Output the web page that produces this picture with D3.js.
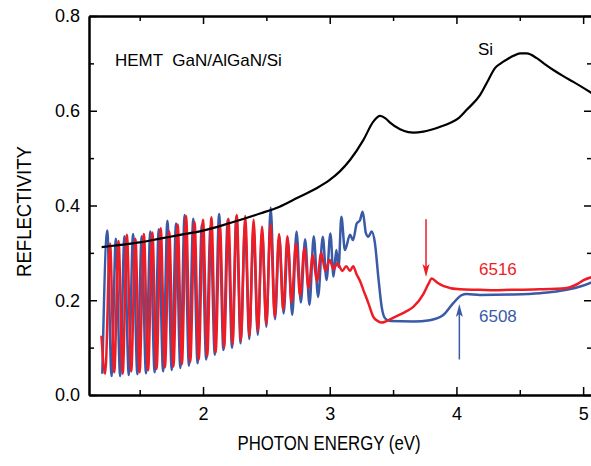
<!DOCTYPE html>
<html>
<head>
<meta charset="utf-8">
<script src="https://cdn.jsdelivr.net/npm/d3@7"></script>
<style>
  body { margin: 0; background: #fff; }
  text { font-family: "Liberation Sans", Arial, sans-serif; }
</style>
</head>
<body>
<svg id="chart"></svg>
<script>
// photon energy (eV), reflectivity pairs
const siCurve = [[1.2,0.312],[1.35,0.317],[1.5,0.322],[1.66,0.33],[1.8,0.337],[2.0,0.347],[2.2,0.362],[2.45,0.383],[2.6,0.397],[2.75,0.417],[2.9,0.437],[3.0,0.454],[3.08,0.472],[3.16,0.496],[3.265,0.538],[3.344,0.577],[3.397,0.589],[3.44,0.584],[3.476,0.575],[3.555,0.561],[3.62,0.555],[3.66,0.554],[3.739,0.556],[3.87,0.566],[3.949,0.574],[4.02,0.585],[4.081,0.602],[4.186,0.633],[4.252,0.665],[4.304,0.69],[4.35,0.7],[4.397,0.708],[4.45,0.716],[4.502,0.721],[4.555,0.721],[4.634,0.711],[4.7,0.698],[4.765,0.686],[4.85,0.672],[4.923,0.661],[5.07,0.637]];

const sample6508 = [[1.205,0.045],[1.244,0.347],[1.278,0.04],[1.312,0.33],[1.346,0.04],[1.380,0.335],[1.414,0.042],[1.448,0.34],[1.482,0.044],[1.516,0.335],[1.550,0.046],[1.584,0.345],[1.618,0.048],[1.651,0.35],[1.685,0.05],[1.719,0.368],[1.753,0.053],[1.787,0.362],[1.821,0.057],[1.855,0.38],[1.889,0.062],[1.923,0.372],[1.957,0.067],[1.991,0.36],[2.025,0.075],[2.059,0.355],[2.093,0.085],[2.127,0.382],[2.161,0.095],[2.195,0.37],[2.229,0.1],[2.263,0.376],[2.297,0.109],[2.331,0.36],[2.365,0.118],[2.398,0.35],[2.432,0.127],[2.466,0.345],[2.5,0.144],[2.534,0.395],[2.568,0.16],[2.602,0.334],[2.636,0.172],[2.670,0.324],[2.704,0.169],[2.738,0.345],[2.772,0.195],[2.806,0.329],[2.84,0.19],[2.874,0.335],[2.908,0.207],[2.945,0.334],[2.975,0.243],[3.005,0.341],[3.03,0.25],[3.052,0.306],[3.07,0.27],[3.092,0.376],[3.12,0.306],[3.16,0.338],[3.184,0.327],[3.213,0.362],[3.239,0.369],[3.26,0.387],[3.286,0.341],[3.304,0.334],[3.331,0.345],[3.357,0.32],[3.383,0.25],[3.41,0.186],[3.436,0.162],[3.476,0.156],[3.66,0.155],[3.79,0.158],[3.896,0.169],[3.975,0.194],[4.042,0.211],[4.08,0.213],[4.186,0.211],[4.423,0.212],[4.66,0.215],[4.87,0.222],[4.989,0.23],[5.07,0.238]];

const sample6516 = [[1.198,0.125],[1.228,0.045],[1.266,0.32],[1.299,0.048],[1.333,0.325],[1.366,0.045],[1.399,0.338],[1.433,0.05],[1.466,0.33],[1.499,0.048],[1.533,0.34],[1.566,0.052],[1.600,0.343],[1.633,0.055],[1.666,0.352],[1.699,0.058],[1.733,0.345],[1.766,0.06],[1.800,0.36],[1.833,0.065],[1.866,0.378],[1.899,0.07],[1.933,0.365],[1.966,0.075],[2.0,0.37],[2.033,0.082],[2.066,0.375],[2.099,0.09],[2.133,0.36],[2.166,0.1],[2.2,0.372],[2.233,0.108],[2.266,0.38],[2.299,0.115],[2.333,0.378],[2.366,0.125],[2.399,0.37],[2.433,0.135],[2.466,0.355],[2.499,0.15],[2.533,0.36],[2.566,0.165],[2.6,0.34],[2.633,0.18],[2.666,0.335],[2.699,0.195],[2.733,0.32],[2.766,0.21],[2.8,0.31],[2.833,0.225],[2.866,0.295],[2.899,0.24],[2.933,0.3],[2.965,0.262],[3.0,0.285],[3.03,0.265],[3.06,0.278],[3.1,0.262],[3.13,0.272],[3.16,0.262],[3.185,0.272],[3.21,0.256],[3.24,0.24],[3.265,0.222],[3.305,0.194],[3.344,0.165],[3.38,0.156],[3.41,0.153],[3.5,0.163],[3.6,0.176],[3.66,0.186],[3.739,0.213],[3.78,0.235],[3.805,0.246],[3.85,0.237],[3.9,0.23],[4.028,0.223],[4.186,0.222],[4.3,0.221],[4.423,0.222],[4.66,0.223],[4.87,0.226],[4.96,0.235],[5.0,0.242],[5.07,0.249]];

const xMajor = [2, 3, 4, 5];
const xMinor = [1.5, 2.5, 3.5, 4.5];
const yMajor = [0, 0.2, 0.4, 0.6, 0.8];
const yMinor = [0.1, 0.3, 0.5, 0.7];

// arrows: energy, start and end reflectivity
const arrows = [
  { e: 3.76, from: 0.371, to: 0.249, color: '#ee1c25' },
  { e: 4.023, from: 0.075, to: 0.192, color: '#3a5aa8' }
];
const labels = [
  { text: 'HEMT  GaN/AlGaN/Si', e: 1.305, r: 0.694, color: '#000' },
  { text: 'Si', e: 4.17, r: 0.718, color: '#000' },
  { text: '6516', e: 4.178, r: 0.253, color: '#ee1c25' },
  { text: '6508', e: 4.178, r: 0.154, color: '#3a5aa8' }
];

const W = 591, H = 466;
const plot = { left: 89, right: 592, top: 16, bottom: 395 };

const svg = d3.select('#chart').attr('width', W).attr('height', H);

const x = d3.scaleLinear().domain([1.1, 5.07]).range([plot.left, plot.right]);
const y = d3.scaleLinear().domain([0, 0.8]).range([plot.bottom, plot.top]);

svg.append('clipPath').attr('id', 'clip')
  .append('rect')
  .attr('x', plot.left).attr('y', plot.top)
  .attr('width', plot.right - plot.left).attr('height', plot.bottom - plot.top);

const line = d3.line().x(d => x(d[0])).y(d => y(d[1])).curve(d3.curveMonotoneX);

const curves = svg.append('g').attr('clip-path', 'url(#clip)');
curves.append('path').datum(sample6508)
  .attr('d', line).attr('fill', 'none')
  .attr('stroke', '#3a5aa8').attr('stroke-width', 2.5).attr('stroke-linejoin', 'round');
curves.append('path').datum(sample6516)
  .attr('d', line).attr('fill', 'none')
  .attr('stroke', '#ee1c25').attr('stroke-width', 2.5).attr('stroke-linejoin', 'round');
curves.append('path').datum(siCurve)
  .attr('d', line).attr('fill', 'none')
  .attr('stroke', '#000').attr('stroke-width', 2.2);

// axes, ticks pointing inward
function styleAxis(g) {
  g.selectAll('.domain').attr('stroke', '#000').attr('stroke-width', 2);
  g.selectAll('.tick line').attr('stroke', '#000').attr('stroke-width', 1.5);
  g.selectAll('.tick text').attr('fill', '#000').style('font-size', '18px')
    .style('font-family', '"Liberation Sans", Arial, sans-serif');
}

svg.append('g').attr('transform', `translate(0,${plot.bottom})`)
  .call(d3.axisBottom(x).tickValues(xMajor).tickFormat(d3.format('d')).tickSize(-8).tickSizeOuter(0).tickPadding(12))
  .call(styleAxis);
svg.append('g').attr('transform', `translate(0,${plot.bottom})`)
  .call(d3.axisBottom(x).tickValues(xMinor).tickFormat('').tickSize(-5).tickSizeOuter(0))
  .call(styleAxis);
svg.append('g').attr('transform', `translate(0,${plot.top})`)
  .call(d3.axisTop(x).tickValues(xMajor).tickFormat('').tickSize(-8).tickSizeOuter(0))
  .call(styleAxis);
svg.append('g').attr('transform', `translate(0,${plot.top})`)
  .call(d3.axisTop(x).tickValues(xMinor).tickFormat('').tickSize(-5).tickSizeOuter(0))
  .call(styleAxis);

svg.append('g').attr('transform', `translate(${plot.left},0)`)
  .call(d3.axisLeft(y).tickValues(yMajor).tickFormat(d3.format('.1f')).tickSize(-8).tickSizeOuter(0).tickPadding(9))
  .call(styleAxis);
svg.append('g').attr('transform', `translate(${plot.left},0)`)
  .call(d3.axisLeft(y).tickValues(yMinor).tickFormat('').tickSize(-5).tickSizeOuter(0))
  .call(styleAxis);
svg.append('g').attr('transform', `translate(${plot.right},0)`)
  .call(d3.axisRight(y).tickValues(yMajor).tickFormat('').tickSize(-8).tickSizeOuter(0))
  .call(styleAxis);
svg.append('g').attr('transform', `translate(${plot.right},0)`)
  .call(d3.axisRight(y).tickValues(yMinor).tickFormat('').tickSize(-5).tickSizeOuter(0))
  .call(styleAxis);

// axis titles
svg.append('text')
  .attr('x', 329)
  .attr('y', 450)
  .attr('text-anchor', 'middle')
  .attr('textLength', 183).attr('lengthAdjust', 'spacingAndGlyphs')
  .style('font-size', '20px')
  .text('PHOTON ENERGY (eV)');

svg.append('text')
  .attr('transform', `translate(31,${(plot.top + plot.bottom) / 2 + 6}) rotate(-90)`)
  .attr('text-anchor', 'middle')
  .attr('textLength', 131).attr('lengthAdjust', 'spacingAndGlyphs')
  .style('font-size', '20px')
  .text('REFLECTIVITY');

// annotations
labels.forEach(l => {
  svg.append('text')
    .attr('x', x(l.e)).attr('y', y(l.r))
    .attr('fill', l.color)
    .style('font-size', '17px')
    .style('white-space', 'pre')
    .text(l.text);
});

arrows.forEach(a => {
  const ax = x(a.e), y0 = y(a.from), y1 = y(a.to);
  const dir = Math.sign(y1 - y0);
  svg.append('line')
    .attr('x1', ax).attr('x2', ax)
    .attr('y1', y0).attr('y2', y1 - dir * 8)
    .attr('stroke', a.color).attr('stroke-width', 1.5);
  svg.append('path')
    .attr('d', `M${ax},${y1} L${ax - 3.5},${y1 - dir * 13} L${ax},${y1 - dir * 10} L${ax + 3.5},${y1 - dir * 13} Z`)
    .attr('fill', a.color);
});
</script>
</body>
</html>
